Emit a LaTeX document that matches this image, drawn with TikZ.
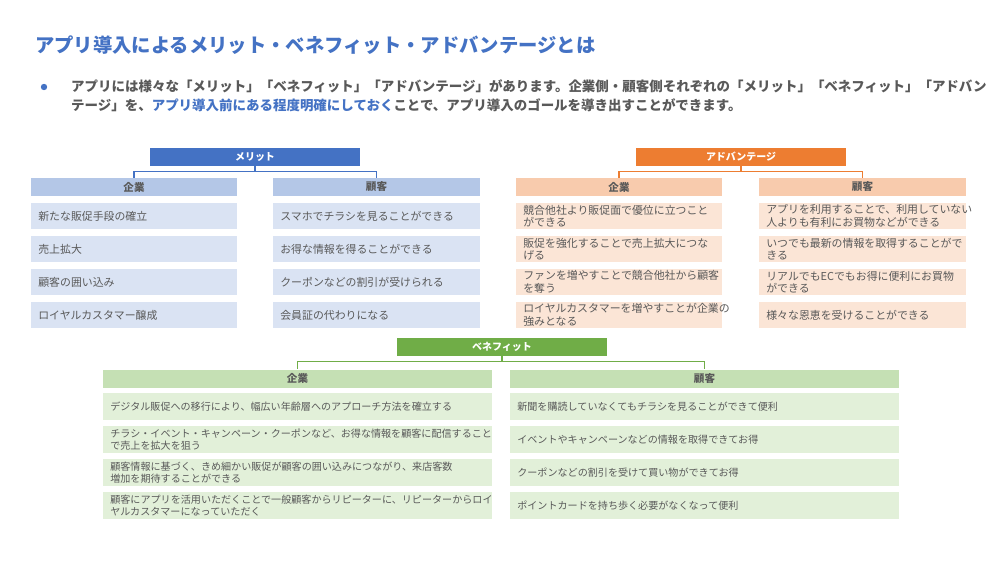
\documentclass[tikz,border=0pt]{standalone}
\usepackage{fontspec}
\setmainfont{Noto Sans CJK JP}
\definecolor{ttlblue}{HTML}{4472C4}
\definecolor{txtgray}{HTML}{595959}
\definecolor{mhead}{HTML}{4472C4}
\definecolor{msub}{HTML}{B4C7E7}
\definecolor{mfill}{HTML}{DAE3F3}
\definecolor{ahead}{HTML}{ED7D31}
\definecolor{asub}{HTML}{F8CBAD}
\definecolor{afill}{HTML}{FBE5D6}
\definecolor{bhead}{HTML}{70AD47}
\definecolor{bsub}{HTML}{C5E0B4}
\definecolor{bfill}{HTML}{E2F0D9}
\tikzset{
  headbox/.style={minimum width=63mm, minimum height=5.4mm, inner sep=0, text=white, font=\fontsize{8.5}{10}\selectfont\bfseries},
  subbox/.style={minimum height=5.4mm, inner sep=0, text=txtgray, font=\fontsize{9}{10}\selectfont\bfseries},
  itembox/.style={minimum height=7.9mm, inner xsep=2.2mm, inner ysep=0, align=left, text=txtgray, font=\fontsize{9.3}{10.5}\selectfont},
  link/.style={line width=1.2pt},
}
\begin{document}
\begin{tikzpicture}[x=0.3mm,y=-0.3mm]
\useasboundingbox[fill=white] (0,0) rectangle (1000,563);
% title and lead
\node[anchor=west, inner sep=0, text=ttlblue, font=\fontsize{16.5}{18}\selectfont\bfseries] (title) at (35,45) {アプリ導入によるメリット・ベネフィット・アドバンテージとは};
\fill[ttlblue] (44,87) circle (3.2);
\node[anchor=north west, inner sep=0, align=left, text=txtgray, font=\fontsize{11.5}{17}\selectfont\bfseries] (lead) at (71,79)
 {アプリには様々な「メリット」「ベネフィット」「アドバンテージ」があります。企業側・顧客側それぞれの「メリット」「ベネフィット」「アドバン\\
  テージ」を、{\color{ttlblue}アプリ導入前にある程度明確にしておく}ことで、アプリ導入のゴールを導き出すことができます。};
% merit
\node[headbox, fill=mhead] (mh) at (255,157) {メリット};
\node[subbox, fill=msub, minimum width=61.8mm] (mc) at (134,187) {企業};
\node[subbox, fill=msub, minimum width=62.1mm] (mk) at (376.5,187) {顧客};
\draw[link, mhead] (mh.south) -- ++(0,5) -| (mc.north);
\draw[link, mhead] (mh.south) -- ++(0,5) -| (mk.north);
\foreach \t [count=\i] in {新たな販促手段の確立, 売上拡大, 顧客の囲い込み, ロイヤルカスタマー醸成}
  \node[itembox, fill=mfill, text width=57.4mm] (mc\i) at (134,183+33*\i) {\t};
\foreach \t [count=\i] in {スマホでチラシを見ることができる, お得な情報を得ることができる, クーポンなどの割引が受けられる, 会員証の代わりになる}
  \node[itembox, fill=mfill, text width=57.7mm] (mk\i) at (376.5,183+33*\i) {\t};
% advantage
\node[headbox, fill=ahead] (ah) at (741,157) {アドバンテージ};
\node[subbox, fill=asub, minimum width=61.8mm] (ac) at (619,187) {企業};
\node[subbox, fill=asub, minimum width=62.1mm] (ak) at (862.5,187) {顧客};
\draw[link, ahead] (ah.south) -- ++(0,5) -| (ac.north);
\draw[link, ahead] (ah.south) -- ++(0,5) -| (ak.north);
\foreach \t [count=\i] in {競合他社より販促面で優位に立つこと\\ができる, 販促を強化することで売上拡大につな\\げる, ファンを増やすことで競合他社から顧客\\を奪う, ロイヤルカスタマーを増やすことが企業の\\強みとなる}
  \node[itembox, fill=afill, text width=57.4mm] (ac\i) at (619,183+33*\i) {\t};
\foreach \t [count=\i] in {アプリを利用することで、利用していない\\人よりも有利にお買物などができる, いつでも最新の情報を取得することがで\\きる, リアルでもECでもお得に便利にお買物\\ができる, 様々な恩恵を受けることができる}
  \node[itembox, fill=afill, text width=57.7mm] (ak\i) at (862.5,183+33*\i) {\t};
% benefit
\node[headbox, fill=bhead] (bh) at (502,347) {ベネフィット};
\node[subbox, fill=bsub, minimum width=116.7mm] (bc) at (297.5,378.5) {企業};
\node[subbox, fill=bsub, minimum width=116.7mm] (bk) at (704.5,378.5) {顧客};
\draw[link, bhead] (bh.south) -- ++(0,5) -| (bc.north);
\draw[link, bhead] (bh.south) -- ++(0,5) -| (bk.north);
\foreach \t [count=\i] in {デジタル販促への移行により、幅広い年齢層へのアプローチ方法を確立する, チラシ・イベント・キャンペーン・クーポンなど、お得な情報を顧客に配信すること\\で売上を拡大を狙う, 顧客情報に基づく、きめ細かい販促が顧客の囲い込みにつながり、来店客数\\増加を期待することができる, 顧客にアプリを活用いただくことで一般顧客からリピーターに、リピーターからロイ\\ヤルカスタマーになっていただく}
  \node[itembox, fill=bfill, text width=112.3mm, font=\fontsize{8.6}{10.2}\selectfont] (bc\i) at (297.5,373.5+33*\i) {\t};
\foreach \t [count=\i] in {新聞を購読していなくてもチラシを見ることができて便利, イベントやキャンペーンなどの情報を取得できてお得, クーポンなどの割引を受けて買い物ができてお得, ポイントカードを持ち歩く必要がなくなって便利}
  \node[itembox, fill=bfill, text width=112.3mm, font=\fontsize{8.6}{10.2}\selectfont] (bk\i) at (704.5,373.5+33*\i) {\t};
\end{tikzpicture}
\end{document}
